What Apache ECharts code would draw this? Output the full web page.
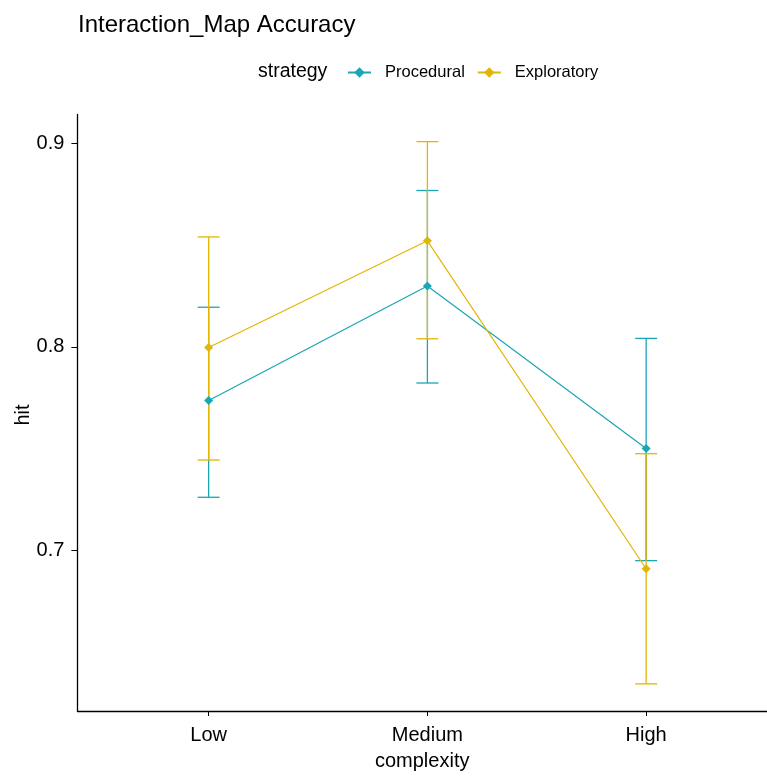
<!DOCTYPE html>
<html>
<head>
<meta charset="utf-8">
<script src="https://cdn.jsdelivr.net/npm/echarts@6/dist/echarts.min.js"></script>
<style>
  html, body { margin: 0; padding: 0; background: #fff; }
  #chart { width: 767px; height: 776px; }
</style>
</head>
<body>
<div id="chart"></div>
<script>
// Complexity levels on the x axis
const categories = ['Low', 'Medium', 'High'];

// Mean hit rate and error bar bounds per strategy
const proceduralMean  = [0.7737, 0.8299, 0.7502];
const proceduralLower = [0.7262, 0.7823, 0.6951];
const proceduralUpper = [0.8195, 0.8768, 0.8042];

const exploratoryMean  = [0.7997, 0.8521, 0.6911];
const exploratoryLower = [0.7445, 0.8040, 0.6346];
const exploratoryUpper = [0.8540, 0.9008, 0.7476];

// Y axis tick labels
const yTicks = [0.7, 0.8, 0.9];

const colProc = '#1aa6b4';
const colExpl = '#e3b505';
const FONT = '"Liberation Sans", Arial, sans-serif';

// y range: data extent plus 5% padding on each side
const allLow = Math.min(...proceduralLower, ...exploratoryLower);
const allHigh = Math.max(...proceduralUpper, ...exploratoryUpper);
const pad = (allHigh - allLow) * 0.05;
const yMin = allLow - pad;
const yMax = allHigh + pad;

// x range: 0.6 of a category step beyond the first level; the panel runs off the right edge
const xMin = -0.6;
const xMax = 2.5525;

const toPoints = arr => arr.map((v, i) => [i, v]);
const toBars = (lo, hi) => lo.map((v, i) => [i, v, hi[i]]);

function errorBar(color) {
  return function (params, api) {
    const x = api.value(0);
    const lo = api.coord([x, api.value(1)]);
    const hi = api.coord([x, api.value(2)]);
    const half = 11;
    const style = { stroke: color, lineWidth: 1.3 };
    return {
      type: 'group',
      children: [
        { type: 'line', shape: { x1: lo[0], y1: lo[1], x2: hi[0], y2: hi[1] }, style },
        { type: 'line', shape: { x1: lo[0] - half, y1: lo[1], x2: lo[0] + half, y2: lo[1] }, style },
        { type: 'line', shape: { x1: hi[0] - half, y1: hi[1], x2: hi[0] + half, y2: hi[1] }, style }
      ]
    };
  };
}

const chart = echarts.init(document.getElementById('chart'), null, { renderer: 'canvas' });

chart.setOption({
  animation: false,
  backgroundColor: '#ffffff',
  title: {
    text: 'Interaction_Map Accuracy',
    left: 73,
    top: 8,
    textStyle: { fontFamily: FONT, fontSize: 24, fontWeight: 'normal', color: '#000' }
  },
  graphic: [
    {
      type: 'text',
      left: 258,
      top: 62,
      style: { text: 'strategy', fontFamily: FONT, fontSize: 19.5, fill: '#000' }
    },
    {
      // y axis title
      type: 'text',
      x: 23,
      y: 415,
      rotation: Math.PI / 2,
      style: {
        text: 'hit', fontFamily: FONT, fontSize: 20, fill: '#000',
        align: 'center', verticalAlign: 'middle'
      }
    }
  ],
  legend: {
    left: 342,
    top: 59,
    itemWidth: 23,
    itemHeight: 13,
    itemGap: 12,
    textStyle: { fontFamily: FONT, fontSize: 16.5, color: '#000', padding: [0, 0, 0, 9] },
    data: ['Procedural', 'Exploratory']
  },
  grid: {
    left: 77.4,
    top: 114.5,
    right: 0,
    bottom: 60.7,
    containLabel: false
  },
  xAxis: {
    type: 'value',
    min: xMin,
    max: xMax,
    name: 'complexity',
    nameLocation: 'middle',
    nameGap: 40,
    nameTextStyle: { fontFamily: FONT, fontSize: 20, color: '#000' },
    splitLine: { show: false },
    axisLine: { show: true, onZero: false, lineStyle: { color: '#000', width: 1.3 } },
    axisTick: { show: true, customValues: [0, 1, 2], length: 5, lineStyle: { color: '#000' } },
    axisLabel: {
      customValues: [0, 1, 2],
      formatter: v => categories[Math.round(v)],
      fontFamily: FONT, fontSize: 20, color: '#000', margin: 14
    }
  },
  yAxis: {
    type: 'value',
    min: yMin,
    max: yMax,
    splitLine: { show: false },
    axisLine: { show: true, onZero: false, lineStyle: { color: '#000', width: 1.3 } },
    axisTick: { show: true, customValues: yTicks, length: 6, lineStyle: { color: '#000' } },
    axisLabel: {
      customValues: yTicks,
      formatter: v => v.toFixed(1),
      fontFamily: FONT, fontSize: 20, color: '#000', margin: 13
    }
  },
  series: [
    {
      name: 'Procedural bars',
      type: 'custom',
      renderItem: errorBar(colProc),
      data: toBars(proceduralLower, proceduralUpper),
      z: 1,
      clip: false
    },
    {
      name: 'Exploratory bars',
      type: 'custom',
      renderItem: errorBar(colExpl),
      data: toBars(exploratoryLower, exploratoryUpper),
      z: 1,
      clip: false
    },
    {
      name: 'Procedural',
      type: 'line',
      data: toPoints(proceduralMean),
      color: colProc,
      symbol: 'diamond',
      symbolSize: 9,
      showSymbol: true,
      lineStyle: { color: colProc, width: 1.2 },
      itemStyle: { color: colProc },
      z: 3
    },
    {
      name: 'Exploratory',
      type: 'line',
      data: toPoints(exploratoryMean),
      color: colExpl,
      symbol: 'diamond',
      symbolSize: 9,
      showSymbol: true,
      lineStyle: { color: colExpl, width: 1.2 },
      itemStyle: { color: colExpl },
      z: 3
    }
  ]
});
</script>
</body>
</html>
